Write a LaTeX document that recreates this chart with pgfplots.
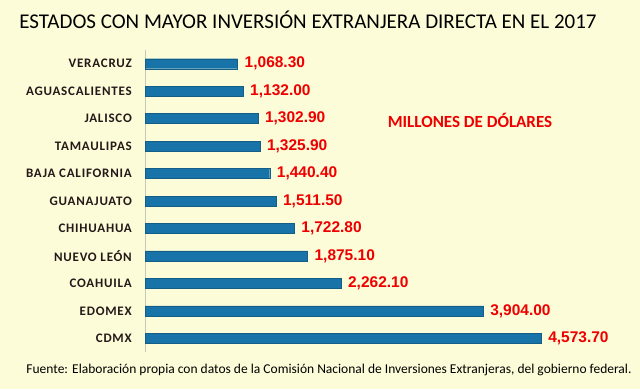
\documentclass[border=0pt]{standalone}
\usepackage{pgfplots}
\pgfplotsset{compat=1.18}
\usepackage{fontspec}
\setmainfont{Carlito}
\newfontfamily\lib{Liberation Sans}
\newfontfamily\tickf{Carlito}[LetterSpace=6]
\definecolor{bg}{RGB}{253,252,216}
\definecolor{barc}{RGB}{24,116,168}
\definecolor{valred}{RGB}{238,0,0}
\definecolor{axgray}{RGB}{200,200,185}
\definecolor{labc}{RGB}{35,25,25}
\begin{document}
\begin{tikzpicture}[x=1pt,y=1pt]
\fill[bg] (0,0) rectangle (640,389);
\useasboundingbox (0,0) rectangle (640,389);
\begin{axis}[
  at={(145pt,37pt)}, anchor=south west,
  scale only axis, width=433pt, height=302pt,
  xbar, bar width=10pt,
  xmin=0, xmax=5000, ymin=-0.5, ymax=10.5,
  axis x line=none, axis y line*=left,
  y axis line style={draw=axgray, line width=1pt, -},
  major tick length=0pt,
  ytick={0,...,10},
  yticklabels={CDMX,EDOMEX,COAHUILA,NUEVO LEÓN,CHIHUAHUA,GUANAJUATO,BAJA CALIFORNIA,TAMAULIPAS,JALISCO,AGUASCALIENTES,VERACRUZ},
  yticklabel style={anchor=east, inner sep=0pt, xshift=-13pt, font=\tickf\fontsize{13}{14}\selectfont\bfseries, text=labc},
  nodes near coords,
  nodes near coords style={anchor=west, inner sep=0pt, xshift=7pt, text=valred, font=\lib\fontsize{15.5}{16}\selectfont\bfseries,
    /pgf/number format/.cd, fixed, fixed zerofill, precision=2, 1000 sep={,}, assume math mode=true},
]
\addplot[fill=barc, draw=barc!80!black] coordinates {
(4573.7,0) (3904.0,1) (2262.1,2) (1875.1,3) (1722.8,4) (1511.5,5) (1440.4,6) (1325.9,7) (1302.9,8) (1132.0,9) (1068.3,10)};
\end{axis}
\node[font=\fontsize{21}{23}\selectfont, anchor=center] at (308,369) {ESTADOS CON MAYOR INVERSIÓN EXTRANJERA DIRECTA EN EL 2017};
\node[font=\fontsize{17}{18}\selectfont\bfseries, text=valred] at (470,269) {MILLONES DE DÓLARES};
\node[font=\fontsize{13.5}{15}\selectfont, anchor=center] at (329,19) {Fuente: Elaboración propia con datos de la Comisión Nacional de Inversiones Extranjeras, del gobierno federal.};
\end{tikzpicture}
\end{document}
